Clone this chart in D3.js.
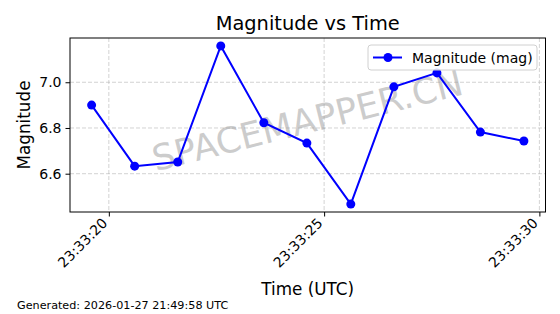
<!DOCTYPE html>
<html>
<head>
<meta charset="utf-8">
<script src="https://cdn.jsdelivr.net/npm/d3@7"></script>
<style>
  body { margin: 0; background: #fff; }
  svg { font-family: "DejaVu Sans", sans-serif; }
</style>
</head>
<body>
<div id="chart"></div>
<script>
// observation times (seconds past 23:33:00 UTC) and magnitudes
const seconds = [19.6, 20.6, 21.6, 22.6, 23.6, 24.6, 25.62, 26.62, 27.62, 28.63, 29.64]
const magnitudes = [6.90, 6.633, 6.651, 7.159, 6.823, 6.734, 6.467, 6.980, 7.041, 6.782, 6.743]
const yTicks = [6.6, 6.8, 7.0]
const xTickSeconds = [20, 25, 30]

const baseDate = Date.UTC(2026, 0, 27, 23, 33, 0)
const toDate = s => new Date(baseDate + s * 1000)
const data = seconds.map((s, i) => ({ t: toDate(s), m: magnitudes[i] }))

const width = 560, height = 314
const margin = { left: 70, right: 14.5, top: 38, bottom: 102 }
const lineColor = "#0000ff"

const svg = d3.select("#chart").append("svg")
  .attr("width", width)
  .attr("height", height)

// domain with 5% padding like matplotlib
const tExt = d3.extent(data, d => +d.t)
const tPad = (tExt[1] - tExt[0]) * 0.05
const mExt = d3.extent(data, d => d.m)
const mPad = (mExt[1] - mExt[0]) * 0.05

const x = d3.scaleUtc()
  .domain([new Date(tExt[0] - tPad), new Date(tExt[1] + tPad)])
  .range([margin.left, width - margin.right])
const y = d3.scaleLinear()
  .domain([mExt[0] - mPad, mExt[1] + mPad])
  .range([height - margin.bottom, margin.top])

const plotBottom = height - margin.bottom
const plotRight = width - margin.right

// grid
const grid = svg.append("g")
grid.selectAll(".gx").data(xTickSeconds).enter().append("line")
  .attr("x1", d => x(toDate(d))).attr("x2", d => x(toDate(d)))
  .attr("y1", margin.top).attr("y2", plotBottom)
  .attr("stroke", "#b0b0b0").attr("stroke-opacity", 0.7)
  .attr("stroke-dasharray", "4,2").attr("stroke-width", 0.8)
grid.selectAll(".gy").data(yTicks).enter().append("line")
  .attr("x1", margin.left).attr("x2", plotRight)
  .attr("y1", d => y(d)).attr("y2", d => y(d))
  .attr("stroke", "#b0b0b0").attr("stroke-opacity", 0.7)
  .attr("stroke-dasharray", "4,2").attr("stroke-width", 0.8)

// watermark
svg.append("text")
  .attr("transform", "translate(308,123) rotate(-14)")
  .attr("text-anchor", "middle")
  .attr("dominant-baseline", "middle")
  .attr("font-size", 35.5)
  .attr("fill", "#999")
  .attr("fill-opacity", 0.5)
  .text("SPACEMAPPER.CN")

// line and markers
svg.append("path")
  .datum(data)
  .attr("fill", "none")
  .attr("stroke", lineColor)
  .attr("stroke-width", 2)
  .attr("d", d3.line().x(d => x(d.t)).y(d => y(d.m)))

svg.selectAll(".pt").data(data).enter().append("circle")
  .attr("cx", d => x(d.t))
  .attr("cy", d => y(d.m))
  .attr("r", 4.5)
  .attr("fill", lineColor)

// axes frame
svg.append("rect")
  .attr("x", margin.left).attr("y", margin.top)
  .attr("width", plotRight - margin.left)
  .attr("height", plotBottom - margin.top)
  .attr("fill", "none").attr("stroke", "#000").attr("stroke-width", 1)

// x axis
const xAxis = svg.append("g")
  .attr("transform", `translate(0,${plotBottom})`)
  .call(d3.axisBottom(x)
    .tickValues(xTickSeconds.map(toDate))
    .tickFormat(d3.utcFormat("%H:%M:%S"))
    .tickSizeOuter(0).tickSize(4.5))
xAxis.select(".domain").remove()
xAxis.selectAll("text")
  .attr("font-size", 14)
  .attr("font-family", "DejaVu Sans")
  .attr("fill", "#000")
  .attr("text-anchor", "end")
  .attr("dy", null).attr("y", null)
  .attr("transform", "translate(-1,12) rotate(-45)")

// y axis
const yAxis = svg.append("g")
  .attr("transform", `translate(${margin.left},0)`)
  .call(d3.axisLeft(y).tickValues(yTicks).tickFormat(d3.format(".1f"))
    .tickSizeOuter(0).tickSize(4.5).tickPadding(4))
yAxis.select(".domain").remove()
yAxis.selectAll("text")
  .attr("font-size", 14)
  .attr("font-family", "DejaVu Sans")
  .attr("fill", "#000")

// titles
svg.append("text")
  .attr("x", (margin.left + plotRight) / 2).attr("y", 30)
  .attr("text-anchor", "middle")
  .attr("font-size", 19.4)
  .text("Magnitude vs Time")

svg.append("text")
  .attr("x", (margin.left + plotRight) / 2).attr("y", 295)
  .attr("text-anchor", "middle")
  .attr("font-size", 16.8)
  .text("Time (UTC)")

svg.append("text")
  .attr("transform", `translate(30,${(margin.top + plotBottom) / 2}) rotate(-90)`)
  .attr("text-anchor", "middle")
  .attr("font-size", 16.8)
  .text("Magnitude")

svg.append("text")
  .attr("x", 17).attr("y", 309)
  .attr("font-size", 11.2)
  .text("Generated: 2026-01-27 21:49:58 UTC")

// legend
const lg = svg.append("g").attr("transform", "translate(368,45)")
lg.append("rect")
  .attr("width", 169).attr("height", 25).attr("rx", 3)
  .attr("fill", "#fff").attr("fill-opacity", 0.8)
  .attr("stroke", "#d0d0d0")
lg.append("line")
  .attr("x1", 5).attr("x2", 34).attr("y1", 12.5).attr("y2", 12.5)
  .attr("stroke", lineColor).attr("stroke-width", 2)
lg.append("circle")
  .attr("cx", 20).attr("cy", 12.5).attr("r", 4.5).attr("fill", lineColor)
lg.append("text")
  .attr("x", 44).attr("y", 17.5)
  .attr("font-size", 14)
  .text("Magnitude (mag)")
</script>
</body>
</html>
